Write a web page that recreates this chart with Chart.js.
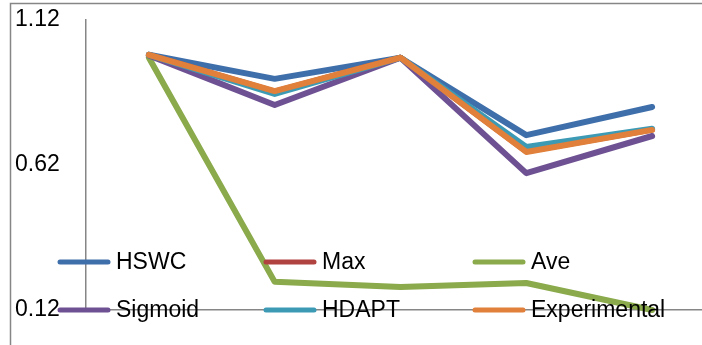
<!DOCTYPE html>
<html>
<head>
<meta charset="utf-8">
<script src="https://cdn.jsdelivr.net/npm/chart.js@4/dist/chart.umd.min.js"></script>
<style>
  html, body { margin: 0; padding: 0; background: #fff; overflow: hidden; }
  #wrap { position: absolute; left: 0; top: 0; width: 730px; height: 345px; }
</style>
</head>
<body>
<div id="wrap"><canvas id="c" width="730" height="345"></canvas></div>
<script>
// Categories along the x axis (no labels shown on the axis)
const categories = ['1', '2', '3', '4', '5'];

// Series values
const hswc         = [1.00, 0.917, 0.99, 0.723, 0.820];
const maxSeries    = [1.00, 0.873, 0.99, 0.667, 0.742];
const ave          = [0.99, 0.217, 0.199, 0.213, 0.120];
const sigmoid      = [0.998, 0.827, 0.99, 0.592, 0.720];
const hdapt        = [1.00, 0.865, 0.99, 0.682, 0.745];
const experimental = [1.00, 0.875, 0.99, 0.665, 0.741];

// Y axis tick labels
const yTicks = [0.12, 0.62, 1.12];

const seriesNames = ['HSWC', 'Max', 'Ave', 'Sigmoid', 'HDAPT', 'Experimental'];
const seriesData = [hswc, maxSeries, ave, sigmoid, hdapt, experimental];
const seriesColors = ['#3F6FAA', '#B0423F', '#8AAA4B', '#6E5193', '#3C9AB5', '#E0803A'];

const FONT = '"Liberation Sans", Arial, sans-serif';
const FONT_SIZE = 23;

// Outer frame of the chart
const framePlugin = {
  id: 'frame',
  beforeDraw(chart) {
    const ctx = chart.ctx;
    ctx.save();
    ctx.strokeStyle = '#868686';
    ctx.lineWidth = 1.5;
    ctx.strokeRect(10.5, 3.5, 1000, 1000);
    ctx.restore();
  }
};

// Legend laid out as a 3-column grid over the plot
const gridLegend = {
  id: 'gridLegend',
  afterDraw(chart) {
    const ctx = chart.ctx;
    const cols = [58, 264, 473];
    const rows = [262, 310];
    ctx.save();
    ctx.font = FONT_SIZE + 'px ' + FONT;
    ctx.textBaseline = 'middle';
    ctx.textAlign = 'left';
    seriesNames.forEach((name, i) => {
      const x = cols[i % 3];
      const y = rows[Math.floor(i / 3)];
      ctx.strokeStyle = seriesColors[i];
      ctx.lineWidth = 5;
      ctx.lineCap = 'round';
      ctx.beginPath();
      ctx.moveTo(x + 2, y);
      ctx.lineTo(x + 50, y);
      ctx.stroke();
      ctx.fillStyle = '#000';
      ctx.fillText(name, x + 58, y + 1);
    });
    ctx.restore();
  }
};

new Chart(document.getElementById('c'), {
  type: 'line',
  data: {
    labels: categories,
    datasets: seriesNames.map((name, i) => ({
      label: name,
      data: seriesData[i],
      borderColor: seriesColors[i],
      backgroundColor: seriesColors[i],
      borderWidth: 6,
      pointRadius: 0,
      tension: 0,
      borderJoinStyle: 'round',
      borderCapStyle: 'round',
      clip: false,
      order: seriesNames.length - i
    }))
  },
  options: {
    responsive: false,
    animation: false,
    layout: { padding: { left: 15, top: 20, right: 15, bottom: 35 } },
    plugins: { legend: { display: false }, tooltip: { enabled: false } },
    scales: {
      x: {
        type: 'category',
        offset: true,
        grid: { display: false, drawTicks: false },
        border: { display: true, color: '#868686', width: 1.5 },
        ticks: { display: false },
        afterFit(scale) { scale.height = 0; }
      },
      y: {
        min: 0.12,
        max: 1.12,
        grid: { display: false, drawTicks: false },
        border: { display: true, color: '#868686', width: 1.5 },
        afterBuildTicks(scale) { scale.ticks = yTicks.map(v => ({ value: v })); },
        ticks: {
          crossAlign: 'far',
          color: '#000',
          font: { family: FONT, size: FONT_SIZE },
          callback: v => Number(v).toFixed(2)
        },
        afterFit(scale) { scale.width = 71; }
      }
    }
  },
  plugins: [framePlugin, gridLegend]
});
</script>
</body>
</html>
